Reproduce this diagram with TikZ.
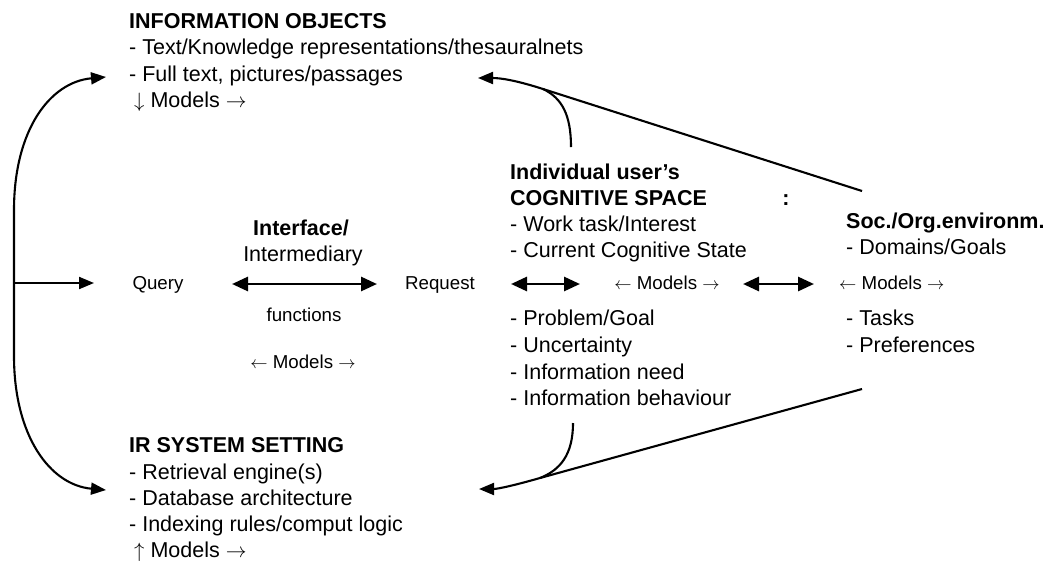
\documentclass[tikz,border=0pt]{standalone}
\usepackage{fontspec}
\setmainfont{Liberation Sans}
\usetikzlibrary{arrows.meta}
\newcommand{\ral}{\ensuremath{\rightarrow}}
\newcommand{\lal}{\ensuremath{\leftarrow}}
\newcommand{\dal}{\ensuremath{\downarrow}}
\newcommand{\ual}{\ensuremath{\uparrow}}
\begin{document}
\begin{tikzpicture}[x=1pt,y=-1pt,
  txt/.style={anchor=base west, inner sep=0pt, font=\fontsize{21.5}{25}\selectfont},
  hd/.style={anchor=base west, inner sep=0pt, font=\fontsize{21.5}{25}\selectfont\bfseries},
  hdc/.style={anchor=base, inner sep=0pt, font=\fontsize{21.5}{25}\selectfont\bfseries},
  txc/.style={anchor=base, inner sep=0pt, font=\fontsize{21.5}{25}\selectfont},
  sm/.style={anchor=base, inner sep=0pt, font=\fontsize{18.7}{22}\selectfont},
  smw/.style={anchor=base west, inner sep=0pt, font=\fontsize{18.7}{22}\selectfont},
  dbl/.style={{Triangle[length=16pt,width=14pt]}-{Triangle[length=16pt,width=14pt]}, line width=2.8pt},
  tipl/.style={-{Triangle[length=15pt,width=12pt]}, line width=2.1pt},
  link/.style={line width=2.1pt}]
\useasboundingbox[fill=white] (0,0) rectangle (1052,563);

% information objects
\node[hd]  (io0) at (129,28)  {INFORMATION OBJECTS};
\node[txt] (io1) at (129,54)  {- Text/Knowledge representations/thesauralnets};
\node[txt] (io2) at (129,81)  {- Full text, pictures/passages};
\node[txt] (io3) at (134,107) {\dal{} Models \ral};

% IR system setting
\node[hd]  (ir0) at (129,452) {IR SYSTEM SETTING};
\node[txt] (ir1) at (129,479) {- Retrieval engine(s)};
\node[txt] (ir2) at (129,505) {- Database architecture};
\node[txt] (ir3) at (129,531) {- Indexing rules/comput logic};
\node[txt] (ir4) at (134,557) {\ual{} Models \ral};

% interface
\node[hdc] (if0) at (301,235) {Interface/};
\node[txc] (if1) at (303,261) {Intermediary};
\node[sm]  (if2) at (304,321) {functions};
\node[sm]  (if3) at (303,368) {\lal{} Models \ral};
\node[sm]  (query) at (158,289) {Query};
\node[sm]  (request) at (440,289) {Request};

% cognitive space
\node[hd]  (cs0) at (510,179) {Individual user’s};
\node[hd]  (cs1) at (510,205) {COGNITIVE SPACE};
\node[txt] (cs2) at (510,231) {- Work task/Interest};
\node[txt] (cs3) at (510,257) {- Current Cognitive State};
\node[txt] (cs4) at (510,325) {- Problem/Goal};
\node[txt] (cs5) at (510,352) {- Uncertainty};
\node[txt] (cs6) at (510,379) {- Information need};
\node[txt] (cs7) at (510,405) {- Information behaviour};
\node[hdc] (colon) at (786,205) {:};
\node[sm]  (csm) at (667,289) {\lal{} Models \ral};

% social / organisational environment
\node[hd]  (so0) at (846,228) {Soc./Org.environm.};
\node[txt] (so1) at (846,254) {- Domains/Goals};
\node[smw] (so2) at (839,289) {\lal{} Models \ral};
\node[txt] (so3) at (846,325) {- Tasks};
\node[txt] (so4) at (846,352) {- Preferences};

% coordinates for connectors
\coordinate (brk) at (14,283);
\coordinate (tTop) at (106,77);
\coordinate (tBot) at (106,490);
\coordinate (qIn) at (94,283);
\coordinate (d1a) at (232,284);
\coordinate (d1b) at (377,284);
\coordinate (d2a) at (511,284);
\coordinate (d2b) at (580,284);
\coordinate (d3a) at (743,284);
\coordinate (d3b) at (814,284);
\coordinate (rTop) at (862,191);
\coordinate (rBot) at (862,389);
\coordinate (jTop) at (543,89);
\coordinate (jBot) at (540,478);
\coordinate (cTop) at (571,147);
\coordinate (cBot) at (573,423);
\coordinate (aTop) at (478,78);
\coordinate (aBot) at (479,489);

% left bracket
\draw[{Triangle[length=15pt,width=12pt]}-{Triangle[length=15pt,width=12pt]}, line width=2.1pt]
  (tTop) .. controls (50,82) and (14,130) .. (14,210) -- (14,356)
  .. controls (14,436) and (50,485) .. (tBot);
\draw[tipl] (brk) -- (qIn);

% double arrows
\draw[dbl] (d1a) -- (d1b);
\draw[dbl] (d2a) -- (d2b);
\draw[dbl] (d3a) -- (d3b);

% right converging arrows
\draw[tipl] (rTop) -- (jTop) .. controls (515,80) and (500,78) .. (aTop);
\draw[link] (cTop) .. controls (571,115) and (562,98) .. (jTop);
\draw[tipl] (rBot) -- (jBot) .. controls (512,486) and (497,489) .. (aBot);
\draw[link] (cBot) .. controls (573,455) and (560,470) .. (jBot);
\end{tikzpicture}
\end{document}
